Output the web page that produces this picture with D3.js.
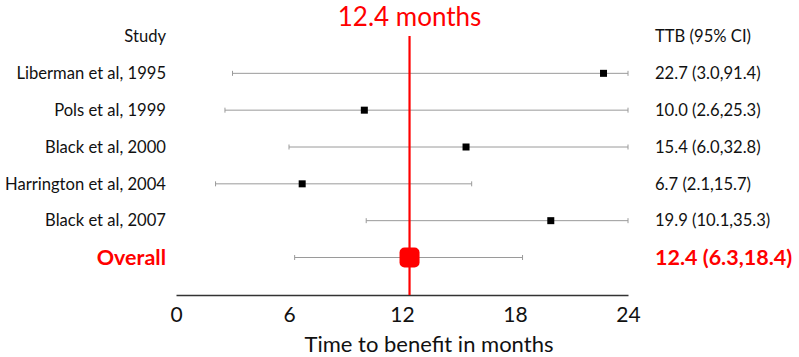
<!DOCTYPE html>
<html>
<head>
<meta charset="utf-8">
<script src="https://cdn.jsdelivr.net/npm/d3@7"></script>
<style>
  html, body { margin: 0; padding: 0; background: #fff; }
  svg { display: block; font-family: Lato, "Open Sans", sans-serif; }
</style>
</head>
<body>
<svg id="chart" width="799" height="357"></svg>
<script>
// Individual studies: time to benefit (months) with 95% CI
const studies = ["Liberman et al, 1995", "Pols et al, 1999", "Black et al, 2000", "Harrington et al, 2004", "Black et al, 2007"];
const estimates = [22.7, 10.0, 15.4, 6.7, 19.9];
const lowerCI = [3.0, 2.6, 6.0, 2.1, 10.1];
const upperCI = [91.4, 25.3, 32.8, 15.7, 35.3];

// Pooled estimate
const overallLabel = "Overall";
const overallEstimate = 12.4;
const overallLower = 6.3;
const overallUpper = 18.4;

const xTicks = [0, 6, 12, 18, 24];

const svg = d3.select("#chart");

const x = d3.scaleLinear().domain([0, 24]).range([176, 628]);
const rows = ["header", ...studies, overallLabel];
const y = d3.scalePoint().domain(rows).range([36.5, 257.5]);

const fmt = d3.format(".1f");
const clamp = v => Math.max(0, Math.min(24, v));

const studyData = studies.map((s, i) => ({
  name: s, est: estimates[i], lo: lowerCI[i], hi: upperCI[i]
}));

const whiskerColor = "#9a9a9a";
const labelSize = 16.6;

// Horizontal CI line with small end caps, clipped to the axis range
function drawWhisker(g, lo, hi, yy) {
  g.append("line")
    .attr("x1", x(clamp(lo))).attr("x2", x(clamp(hi)))
    .attr("y1", yy).attr("y2", yy)
    .attr("stroke", whiskerColor).attr("stroke-width", 1);
  [lo, hi].forEach(v => {
    g.append("line")
      .attr("x1", x(clamp(v))).attr("x2", x(clamp(v)))
      .attr("y1", yy - 2.5).attr("y2", yy + 2.5)
      .attr("stroke", whiskerColor).attr("stroke-width", 1);
  });
}

const gStudies = svg.append("g");
studyData.forEach(d => drawWhisker(gStudies, d.lo, d.hi, y(d.name)));
drawWhisker(svg.append("g"), overallLower, overallUpper, y(overallLabel));

// Axis line (no tick marks)
const axis = d3.axisBottom(x).tickValues(xTicks).tickSize(0).tickPadding(12);
const gAxis = svg.append("g")
  .attr("transform", `translate(0,${295})`)
  .call(axis);
gAxis.select(".domain").attr("stroke", "#333").attr("stroke-width", 1.6);
gAxis.selectAll(".tick text")
  .attr("font-size", 21).attr("fill", "#111")
  .attr("font-family", "Lato, 'Open Sans', sans-serif");

// Reference line at the pooled estimate
svg.append("line")
  .attr("x1", x(overallEstimate)).attr("x2", x(overallEstimate))
  .attr("y1", 36).attr("y2", 295)
  .attr("stroke", "#ff0000").attr("stroke-width", 2.2);

// Study point estimates
svg.append("g").selectAll("rect")
  .data(studyData)
  .join("rect")
  .attr("x", d => x(d.est) - 3.5)
  .attr("y", d => y(d.name) - 3.5)
  .attr("width", 7).attr("height", 7)
  .attr("fill", "#000");

// Overall marker
svg.append("rect")
  .attr("x", x(overallEstimate) - 10)
  .attr("y", y(overallLabel) - 10)
  .attr("width", 20).attr("height", 20)
  .attr("rx", 5).attr("ry", 5)
  .attr("fill", "#ff0000");

// Title over the reference line
svg.append("text")
  .attr("x", x(overallEstimate)).attr("y", 26)
  .attr("text-anchor", "middle")
  .attr("font-size", 26)
  .attr("fill", "#ff0000")
  .text(`${fmt(overallEstimate)} months`);

// Column headers
svg.append("text")
  .attr("x", 166).attr("y", y("header"))
  .attr("dy", "0.35em").attr("text-anchor", "end")
  .attr("font-size", labelSize).attr("fill", "#111")
  .text("Study");
svg.append("text")
  .attr("x", 655).attr("y", y("header"))
  .attr("dy", "0.35em").attr("text-anchor", "start")
  .attr("font-size", labelSize).attr("fill", "#111")
  .text("TTB (95% CI)");

// Study labels and estimate text
svg.append("g").selectAll("text")
  .data(studyData)
  .join("text")
  .attr("x", 166).attr("y", d => y(d.name))
  .attr("dy", "0.35em").attr("text-anchor", "end")
  .attr("font-size", labelSize).attr("fill", "#111")
  .text(d => d.name);

svg.append("g").selectAll("text")
  .data(studyData)
  .join("text")
  .attr("x", 655).attr("y", d => y(d.name))
  .attr("dy", "0.35em").attr("text-anchor", "start")
  .attr("font-size", labelSize).attr("fill", "#111")
  .text(d => `${fmt(d.est)} (${fmt(d.lo)},${fmt(d.hi)})`);

// Overall row labels
svg.append("text")
  .attr("x", 166).attr("y", y(overallLabel))
  .attr("dy", "0.35em").attr("text-anchor", "end")
  .attr("font-size", 21.5).attr("font-weight", "bold").attr("fill", "#ff0000")
  .text(overallLabel);
svg.append("text")
  .attr("x", 655).attr("y", y(overallLabel))
  .attr("dy", "0.35em").attr("text-anchor", "start")
  .attr("font-size", 21.5).attr("font-weight", "bold").attr("fill", "#ff0000")
  .text(`${fmt(overallEstimate)} (${fmt(overallLower)},${fmt(overallUpper)})`);

// Axis title
svg.append("text")
  .attr("x", 429).attr("y", 352)
  .attr("text-anchor", "middle")
  .attr("font-size", 22).attr("fill", "#111")
  .text("Time to benefit in months");
</script>
</body>
</html>
